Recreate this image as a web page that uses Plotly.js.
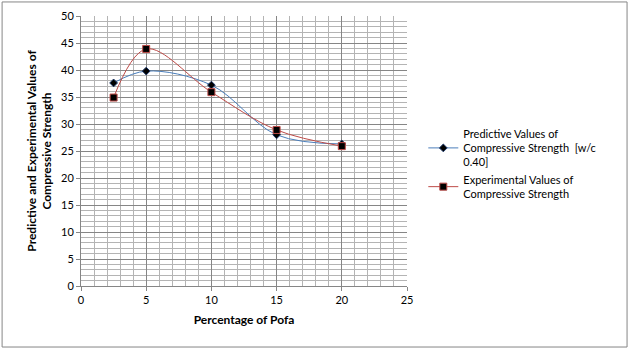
<!DOCTYPE html>
<html><head><meta charset="utf-8">
<script src="https://cdn.plot.ly/plotly-3.0.1.min.js"></script>
<style>html,body{margin:0;padding:0;background:#fff}#c{width:629px;height:351px}</style>
</head><body><div id="c"></div>
<script>
const pofa = [2.5, 5, 10, 15, 20];
const predictive = [37.6, 39.8, 37.2, 28.0, 26.3];
const experimental = [34.9, 43.9, 35.9, 28.9, 25.9];
const predName = "Predictive Values of<br>Compressive Strength  [w/c<br>0.40]";
const expName = "Experimental Values of<br>Compressive Strength";

const fam = "Lato, Open Sans, sans-serif";
const data = [
  {x: pofa, y: predictive, name: predName, type: "scatter", mode: "lines+markers",
   line: {color: "#4a7ebb", width: 1, shape: "spline", smoothing: 1},
   marker: {symbol: "diamond", size: 6, color: "#000", line: {color: "#1f3a6b", width: 1}}},
  {x: pofa, y: experimental, name: expName, type: "scatter", mode: "lines+markers",
   line: {color: "#be4b48", width: 1, shape: "spline", smoothing: 1},
   marker: {symbol: "square", size: 7, color: "#000", line: {color: "#be4b48", width: 1}}}
];
const layout = {
  width: 629, height: 351,
  margin: {l: 81, r: 222, t: 16, b: 65},
  paper_bgcolor: "#fff", plot_bgcolor: "#fff",
  font: {family: fam, size: 11, color: "#000"},
  showlegend: true,
  legend: {x: 1.05, y: 0.615, xanchor: "left", yanchor: "top", font: {family: fam, size: 11}, tracegroupgap: 12, itemwidth: 30},
  xaxis: {range: [0, 25], dtick: 5, tick0: 0, showgrid: true, gridcolor: "#868686", gridwidth: 1,
          minor: {dtick: 1, showgrid: true, gridcolor: "#b4b4b4", gridwidth: 1},
          showline: true, linecolor: "#868686", ticks: "outside", ticklen: 4, tickcolor: "#868686",
          zeroline: false, fixedrange: true,
          title: {text: "<b>Percentage of Pofa</b>", font: {family: fam, size: 12}, standoff: 10}},
  yaxis: {range: [0, 50], dtick: 5, tick0: 0, showgrid: true, gridcolor: "#868686", gridwidth: 1,
          minor: {dtick: 1, showgrid: true, gridcolor: "#b4b4b4", gridwidth: 1},
          showline: true, linecolor: "#868686", ticks: "outside", ticklen: 4, tickcolor: "#868686",
          zeroline: false, fixedrange: true,
          title: {text: "<b>Predictive and Experimental Values of<br>Compressive Strength</b>", font: {family: fam, size: 12}, standoff: 6}},
  shapes: [{type: "rect", xref: "paper", yref: "paper", x0: -0.242, x1: 1.675, y0: -0.226, y1: 1.052,
            line: {color: "#868686", width: 1}}]
};
Plotly.newPlot("c", data, layout, {displayModeBar: false, staticPlot: true});
</script>
</body></html>
